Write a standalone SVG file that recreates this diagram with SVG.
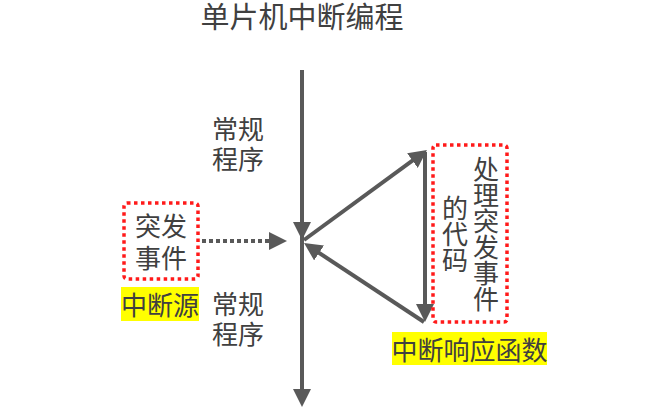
<svg xmlns="http://www.w3.org/2000/svg" width="672" height="408" viewBox="0 0 672 408">
<style>
text{font-family:"Noto Sans CJK SC","Noto Sans",sans-serif;fill:#404040;font-size:26px;text-anchor:middle}
.title{font-size:29px}
.vt{writing-mode:vertical-rl;font-size:26px}
.ln{stroke:#595959;stroke-width:4;fill:none}
.dot{stroke:#595959;stroke-width:4;fill:none;stroke-dasharray:4 3}
.box{fill:none;stroke:#ff1a1a;stroke-width:3.5;stroke-dasharray:3.5 3.5}
.hl{fill:#ffff00}
</style>
<defs>
<marker id="ah" markerUnits="userSpaceOnUse" markerWidth="18" markerHeight="18" refX="8" refY="9" orient="auto">
<path d="M0,0 L18,9 L0,18 z" fill="#595959"/>
</marker>
</defs>
<g id="title"><text class="title" x="302" y="28">单片机中断编程</text></g>
<g id="connectors">
<line class="ln" x1="302" y1="70" x2="302" y2="230" marker-end="url(#ah)"/>
<line class="ln" x1="302" y1="232" x2="302" y2="397" marker-end="url(#ah)"/>
<line class="ln" x1="304" y1="240" x2="418.9" y2="155.9" marker-end="url(#ah)"/>
<line class="ln" x1="425" y1="152" x2="425" y2="312" marker-end="url(#ah)"/>
<line class="ln" x1="424" y1="322" x2="312.4" y2="248.5" marker-end="url(#ah)"/>
<line class="dot" x1="202" y1="241" x2="277" y2="241" marker-end="url(#ah)"/>
</g>
<g id="label-normal-top"><text x="238" y="139">常规<tspan x="238" y="169">程序</tspan></text></g>
<g id="label-normal-bottom"><text x="238" y="314">常规<tspan x="238" y="344">程序</tspan></text></g>
<g id="event">
<rect class="box" x="124" y="203" width="74" height="76" rx="3"/>
<text x="161" y="236">突发<tspan x="161" y="268">事件</tspan></text>
</g>
<g id="source">
<rect class="hl" x="121" y="287" width="78" height="34"/>
<text x="160" y="315">中断源</text>
</g>
<g id="handler">
<rect class="box" x="433" y="145" width="74" height="177" rx="3"/>
<text class="vt" x="486" y="234">处理突发事件</text>
<text class="vt" x="455" y="234">的代码</text>
</g>
<g id="isr">
<rect class="hl" x="392" y="332" width="155" height="33"/>
<text x="469.5" y="360">中断响应函数</text>
</g>
</svg>
